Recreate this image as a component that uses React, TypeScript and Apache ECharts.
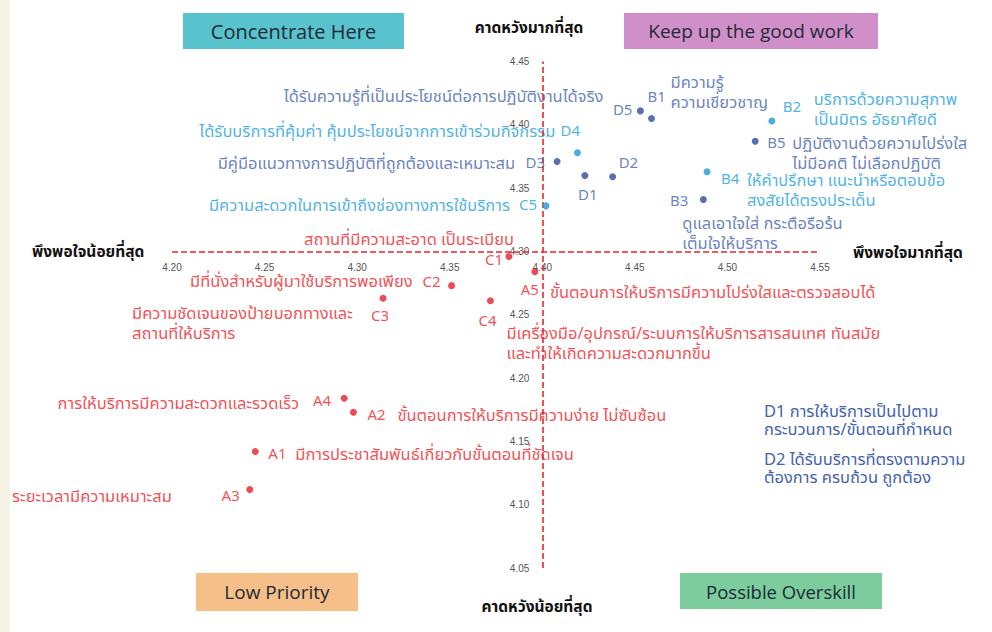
import React, { useEffect, useRef } from "react";
import * as echarts from "echarts";

// ---------- data ----------
const xTicks = [4.2, 4.25, 4.3, 4.35, 4.4, 4.45, 4.5, 4.55];
const yTicks = [4.05, 4.1, 4.15, 4.2, 4.25, 4.3, 4.35, 4.4, 4.45];
const xCross = 4.4;
const yCross = 4.3;

const darkCodes = ["D5", "B1", "B5", "B3", "D3", "D1", "D2"];
const darkX = [4.453, 4.459, 4.515, 4.487, 4.408, 4.423, 4.438];
const darkY = [4.411, 4.405, 4.387, 4.341, 4.371, 4.36, 4.359];
const darkDesc = [
  "ได้รับความรู้ที่เป็นประโยชน์ต่อการปฏิบัติงานได้จริง",
  "มีความรู้\nความเชี่ยวชาญ",
  "ปฏิบัติงานด้วยความโปร่งใส\nไม่มีอคติ ไม่เลือกปฏิบัติ",
  "ดูแลเอาใจใส่ กระตือรือร้น\nเต็มใจให้บริการ",
  "มีคู่มือแนวทางการปฏิบัติที่ถูกต้องและเหมาะสม",
  "",
  "",
];

const lightCodes = ["B2", "B4", "D4", "C5"];
const lightX = [4.524, 4.489, 4.419, 4.402];
const lightY = [4.403, 4.363, 4.378, 4.336];
const lightDesc = [
  "บริการด้วยความสุภาพ\nเป็นมิตร อัธยาศัยดี",
  "ให้คำปรึกษา แนะนำหรือตอบข้อ\nสงสัยได้ตรงประเด็น",
  "ได้รับบริการที่คุ้มค่า คุ้มประโยชน์จากการเข้าร่วมกิจกรรม",
  "มีความสะดวกในการเข้าถึงช่องทางการใช้บริการ",
];

const redCodes = ["C1", "A5", "C2", "C3", "C4", "A4", "A2", "A1", "A3"];
const redX = [4.382, 4.396, 4.351, 4.314, 4.372, 4.293, 4.298, 4.245, 4.242];
const redY = [4.296, 4.284, 4.273, 4.263, 4.261, 4.184, 4.173, 4.142, 4.112];
const redDesc = [
  "สถานที่มีความสะอาด เป็นระเบียบ",
  "ขั้นตอนการให้บริการมีความโปร่งใสและตรวจสอบได้",
  "มีที่นั่งสำหรับผู้มาใช้บริการพอเพียง",
  "มีความชัดเจนของป้ายบอกทางและ\nสถานที่ให้บริการ",
  "มีเครื่องมือ/อุปกรณ์/ระบบการให้บริการสารสนเทศ ทันสมัย\nและทำให้เกิดความสะดวกมากขึ้น",
  "การให้บริการมีความสะดวกและรวดเร็ว",
  "ขั้นตอนการให้บริการมีความง่าย ไม่ซับซ้อน",
  "มีการประชาสัมพันธ์เกี่ยวกับขั้นตอนที่ชัดเจน",
  "ระยะเวลามีความเหมาะสม",
];

const legendTexts = [
  "D1 การให้บริการเป็นไปตาม\nกระบวนการ/ขั้นตอนที่กำหนด",
  "D2 ได้รับบริการที่ตรงตามความ\nต้องการ ครบถ้วน ถูกต้อง",
];

const quadrantTitles = ["Concentrate Here", "Keep up the good work", "Low Priority", "Possible Overskill"];
const axisTitles = ["คาดหวังมากที่สุด", "คาดหวังน้อยที่สุด", "พึงพอใจน้อยที่สุด", "พึงพอใจมากที่สุด"];

// ---------- label layout (pixel offsets from dot centre) ----------
type L = [number, number, string];
const codeLayout: Record<string, L> = {
  D5: [-8, 0, "right"], B1: [-4, -21, "left"], B2: [11, -14, "left"], B5: [12, 2, "left"],
  B4: [14, 8, "left"], B3: [-15, 2, "right"], D4: [-17, -21, "left"], D3: [-12, 2, "right"],
  D1: [3, 20, "center"], D2: [6, -13, "left"], C5: [-9, 0, "right"], C1: [-6, 4, "right"],
  A5: [4, 19, "right"], C2: [-11, -3, "right"], C3: [-3, 18, "center"], C4: [-3, 21, "center"],
  A4: [-13, 3, "right"], A2: [14, 3, "left"], A1: [13, 3, "left"], A3: [-10, 7, "right"],
};
const descLayout: Record<string, L> = {
  D5: [-37, -14, "right"], B1: [19, -26, "left"], B2: [42, -12, "left"], B5: [37, 12, "left"],
  B4: [40, 19, "left"], B3: [-21, 34, "left"], D4: [-22, -21, "right"], D3: [-42, 2, "right"],
  D1: [0, 0, "left"], D2: [0, 0, "left"], C5: [-36, 0, "right"], C1: [5, -17, "right"],
  A5: [15, 21, "left"], C2: [-39, -4, "right"], C3: [-251, 25.5, "left"], C4: [16, 42.5, "left"],
  A4: [-45, 5, "right"], A2: [44, 3, "left"], A1: [40, 3, "left"], A3: [-78, 7, "right"],
};

const FONT = "'Noto Sans Thai', 'Noto Sans', 'DejaVu Sans', sans-serif";

function buildSeries(codes: string[], xs: number[], ys: number[], desc: string[], dotColor: string, textColor: string) {
  const mkLabel = (text: string, l: L, size: number) => ({
    show: text !== "",
    position: ["50%", "50%"],
    offset: [l[0], l[1]],
    align: l[2],
    verticalAlign: "middle",
    color: textColor,
    fontSize: size,
    lineHeight: 20,
    fontFamily: FONT,
    formatter: text,
  });
  const dots = {
    type: "scatter",
    symbol: "circle",
    symbolSize: 7,
    itemStyle: { color: dotColor },
    silent: true,
    z: 5,
    data: codes.map((c, i) => ({ name: c, value: [xs[i], ys[i]], label: mkLabel(c, codeLayout[c], 15) })),
  };
  const texts = {
    type: "scatter",
    symbol: "circle",
    symbolSize: 7,
    itemStyle: { color: "rgba(0,0,0,0)" },
    silent: true,
    z: 4,
    data: codes.map((c, i) => ({ name: c, value: [xs[i], ys[i]], label: mkLabel(desc[i], descLayout[c], 16.5) })),
  };
  return [dots, texts];
}

export default function App() {
  const ref = useRef<HTMLDivElement>(null);
  useEffect(() => {
    document.body.style.margin = "0";
    const chart = echarts.init(ref.current!, null, { renderer: "svg" });
    const gridLeft = 172, gridRight = 172, gridTop = 61.5, gridBottom = 64;
    const plotW = 992 - gridLeft - gridRight;
    const plotH = 632 - gridTop - gridBottom;
    const xMin = xTicks[0], xMax = xTicks[xTicks.length - 1];
    const yMin = yTicks[0], yMax = yTicks[yTicks.length - 1];
    const crossPx = ((xCross - xMin) / (xMax - xMin)) * plotW; // from grid left
    const crossPy = ((yCross - yMin) / (yMax - yMin)) * plotH; // from grid bottom

    const dark = buildSeries(darkCodes, darkX, darkY, darkDesc, "#2f4c9c", "#4463b0");
    const light = buildSeries(lightCodes, lightX, lightY, lightDesc, "#1c9ad6", "#23a0dc");
    const red = buildSeries(redCodes, redX, redY, redDesc, "#e4202a", "#ee2229");
    (dark[0] as any).markLine = {
      silent: true,
      symbol: ["none", "none"],
      label: { show: false },
      lineStyle: { color: "#e8262c", type: [6, 3], width: 1.6 },
      data: [{ xAxis: xCross }, { yAxis: yCross }],
    };

    const box = (x: number, y: number, w: number, h: number, fill: string, text: string, font: string, size: number) => ({
      type: "group",
      children: [
        { type: "rect", shape: { x, y, width: w, height: h }, style: { fill } },
        {
          type: "text",
          style: {
            x: x + w / 2, y: y + h / 2, text, align: "center", verticalAlign: "middle",
            fill: "#1e2a36", font: `${size}px ${font}`,
          },
        },
      ],
    });
    const title = (x: number, y: number, text: string, align: string) => ({
      type: "text",
      style: { x, y, text, align, verticalAlign: "middle", fill: "#111", font: `bold 15.5px ${FONT}` },
    });

    chart.setOption({
      animation: false,
      backgroundColor: "#ffffff",
      grid: { left: gridLeft, right: gridRight, top: gridTop, bottom: gridBottom },
      xAxis: {
        type: "value", min: xMin, max: xMax, interval: 0.05,
        offset: -crossPy,
        axisLine: { show: false }, axisTick: { show: false }, splitLine: { show: false },
        axisLabel: { formatter: (v: number) => v.toFixed(2), color: "#555", fontSize: 10, margin: 11, fontFamily: "'Liberation Sans Narrow', 'Liberation Sans', sans-serif" },
      },
      yAxis: {
        type: "value", min: yMin, max: yMax, interval: 0.05,
        offset: -crossPx,
        axisLine: { show: false }, axisTick: { show: false }, splitLine: { show: false },
        axisLabel: { formatter: (v: number) => v.toFixed(2), color: "#555", fontSize: 10, margin: 13, fontFamily: "'Liberation Sans Narrow', 'Liberation Sans', sans-serif" },
      },
      graphic: [
        { type: "rect", shape: { x: 0, y: 0, width: 10, height: 632 }, style: { fill: "#f6f4e6" } },
        box(183, 13, 221, 36, "#58c2cd", quadrantTitles[0], "'Open Sans', sans-serif", 20),
        box(624, 13, 254, 36, "#d18fc9", quadrantTitles[1], "'Open Sans', sans-serif", 19),
        box(196, 573, 162, 38, "#f6bf8a", quadrantTitles[2], "'Open Sans', sans-serif", 19),
        box(680, 573, 202, 36, "#7ccc9e", quadrantTitles[3], "'Open Sans', sans-serif", 18.5),
        title(529, 28, axisTitles[0], "center"),
        title(537, 607, axisTitles[1], "center"),
        title(32, 252, axisTitles[2], "left"),
        title(853, 253, axisTitles[3], "left"),
        {
          type: "text",
          style: { x: 764, y: 420.5, text: legendTexts[0], verticalAlign: "middle", fill: "#4463b0", font: `16.5px ${FONT}`, lineHeight: 18 },
        },
        {
          type: "text",
          style: { x: 764, y: 468.5, text: legendTexts[1], verticalAlign: "middle", fill: "#4463b0", font: `16.5px ${FONT}`, lineHeight: 18 },
        },
      ],
      series: [...red, ...light, ...dark],
    });
    return () => chart.dispose();
  }, []);
  return <div ref={ref} style={{ width: 992, height: 632 }} />;
}
